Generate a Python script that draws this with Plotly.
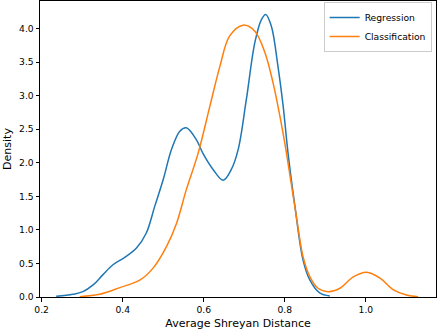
import plotly.graph_objects as go

# KDE curves
reg_x = [0.236, 0.277, 0.302, 0.327, 0.351, 0.376, 0.405, 0.434, 0.458, 0.479,
         0.500, 0.520, 0.541, 0.557, 0.582, 0.598, 0.623, 0.648, 0.668, 0.685,
         0.705, 0.726, 0.742, 0.753, 0.767, 0.783, 0.796, 0.808, 0.825, 0.845,
         0.862, 0.886, 0.911]
reg_y = [0.01, 0.04, 0.08, 0.18, 0.33, 0.48, 0.59, 0.73, 0.95, 1.35,
         1.75, 2.19, 2.47, 2.52, 2.34, 2.14, 1.90, 1.74, 1.90, 2.20,
         2.94, 3.79, 4.13, 4.21, 4.03, 3.44, 2.84, 2.14, 1.35, 0.55,
         0.25, 0.06, 0.015]

cls_x = [0.294, 0.343, 0.393, 0.442, 0.475, 0.508, 0.533, 0.557, 0.586, 0.615,
         0.640, 0.664, 0.697, 0.726, 0.751, 0.771, 0.788, 0.802, 0.829, 0.845,
         0.862, 0.882, 0.907, 0.936, 0.969, 1.002, 1.035, 1.067, 1.100, 1.129]
cls_y = [0.005, 0.04, 0.14, 0.25, 0.43, 0.75, 1.10, 1.60, 2.14, 2.84,
         3.44, 3.89, 4.05, 3.96, 3.64, 3.19, 2.69, 2.22, 1.18, 0.60,
         0.30, 0.13, 0.08, 0.13, 0.30, 0.37, 0.28, 0.11, 0.03, 0.005]

x_ticks = [0.2, 0.4, 0.6, 0.8, 1.0]
y_ticks = [0.0, 0.5, 1.0, 1.5, 2.0, 2.5, 3.0, 3.5, 4.0]

fig = go.Figure()
fig.add_trace(go.Scatter(x=reg_x, y=reg_y, mode="lines", name="Regression",
                         line=dict(color="#1f77b4", width=1.5, shape="spline")))
fig.add_trace(go.Scatter(x=cls_x, y=cls_y, mode="lines", name="Classification",
                         line=dict(color="#ff7f0e", width=1.5, shape="spline")))

axis_style = dict(showline=True, mirror=True, linecolor="black", linewidth=1,
                  showgrid=False, zeroline=False, ticks="outside", ticklen=3.5,
                  tickwidth=1, tickcolor="black")

fig.update_xaxes(range=[0.196, 1.173], tickvals=x_ticks,
                 ticktext=[f"{v:.1f}" for v in x_ticks],
                 title_text="Average Shreyan Distance", title_standoff=5,
                 **axis_style)
fig.update_yaxes(range=[0, 4.41], tickvals=y_ticks,
                 ticktext=[f"{v:.1f}" for v in y_ticks],
                 title_text="Density", title_standoff=5, **axis_style)

fig.update_layout(
    width=438, height=332,
    margin=dict(l=40, r=2, t=1, b=35),
    plot_bgcolor="white", paper_bgcolor="white",
    font=dict(family="DejaVu Sans", size=9.2, color="black"),
    legend=dict(x=0.989, xanchor="right", y=0.997, yanchor="top",
                bgcolor="rgba(255,255,255,0.8)", bordercolor="#cccccc",
                borderwidth=1, itemwidth=30, font=dict(size=9.2)),
)

# drop the page's default body margin so the figure sits at the window's corner
fig.write_html("out.html", config={"displayModeBar": False},
               post_script="document.body.style.margin='0';")
